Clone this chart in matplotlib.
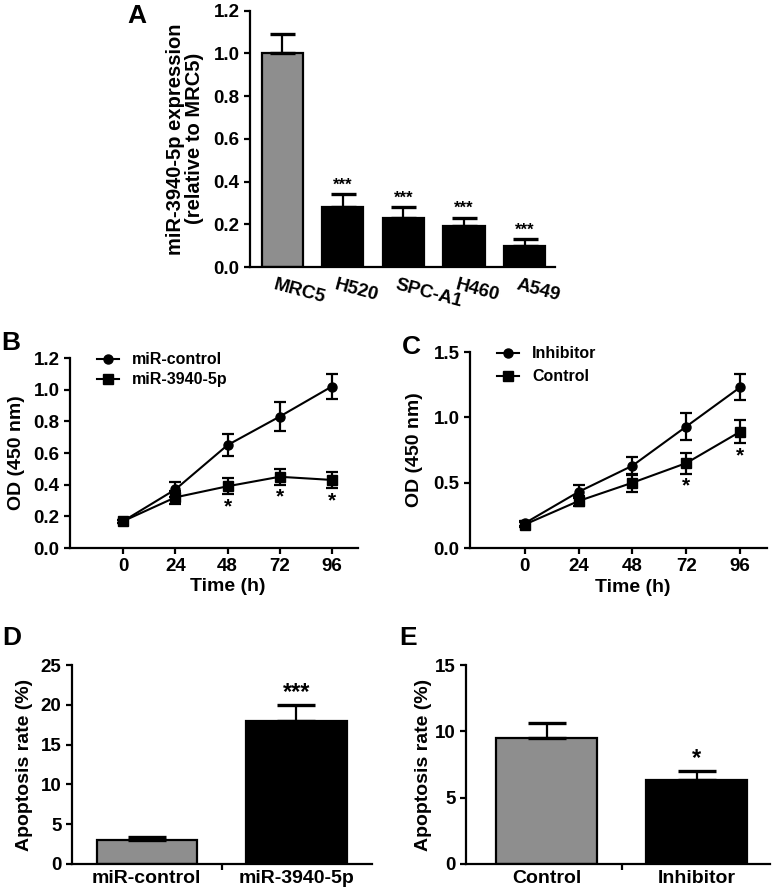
import numpy as np
import matplotlib.pyplot as plt
from matplotlib import transforms
from matplotlib.lines import Line2D

plt.rcParams['font.family'] = ['Liberation Sans', 'DejaVu Sans']
plt.rcParams['font.weight'] = 'bold'
plt.rcParams['axes.labelweight'] = 'bold'
plt.rcParams['axes.linewidth'] = 1.6
plt.rcParams['xtick.major.width'] = 1.6
plt.rcParams['ytick.major.width'] = 1.6
plt.rcParams['xtick.minor.width'] = 1.6
plt.rcParams['xtick.major.size'] = 4
plt.rcParams['ytick.major.size'] = 4

GRAY = '#8e8e8e'

# panel A
cells = ['MRC5', 'H520', 'SPC-A1', 'H460', 'A549']
expr = [1.00, 0.28, 0.23, 0.19, 0.10]
expr_err = [0.09, 0.06, 0.05, 0.04, 0.03]

# panel B
hours = [0, 24, 48, 72, 96]
od_ctrl = [0.17, 0.37, 0.65, 0.83, 1.02]
od_ctrl_err = [0.01, 0.05, 0.07, 0.09, 0.08]
od_mir = [0.17, 0.32, 0.39, 0.45, 0.43]
od_mir_err = [0.01, 0.04, 0.05, 0.05, 0.05]

# panel C
od_inh = [0.19, 0.43, 0.63, 0.93, 1.23]
od_inh_err = [0.02, 0.05, 0.07, 0.10, 0.10]
od_con = [0.18, 0.36, 0.50, 0.65, 0.89]
od_con_err = [0.02, 0.04, 0.07, 0.08, 0.09]

# panel D / E
apo_d_groups = ['miR-control', 'miR-3940-5p']
apo_d = [3.0, 18.0]
apo_d_err = [0.4, 2.0]
apo_e_groups = ['Control', 'Inhibitor']
apo_e = [9.5, 6.3]
apo_e_err = [1.1, 0.7]

fig = plt.figure(figsize=(7.74, 8.93), dpi=100)


def clean(ax, size=13.5):
    ax.spines['top'].set_visible(False)
    ax.spines['right'].set_visible(False)
    ax.tick_params(labelsize=size)


def letter(x, y, s):
    fig.text(x / 774, 1 - y / 893, s, fontsize=19, ha='center', va='center')


# ---- A ----
axA = fig.add_axes([0.323, 0.701, 0.394, 0.287])
x = np.arange(len(cells))
axA.bar(x, expr, width=0.68, color=[GRAY] + ['black'] * 4, edgecolor='black', linewidth=1.6,
        yerr=[np.zeros(5), expr_err], capsize=9, error_kw=dict(elinewidth=1.6, capthick=2.4))
axA.set_xlim(-0.53, 4.5)
axA.set_ylim(0, 1.2)
yt = np.arange(0, 1.21, 0.2)
axA.set_yticks(yt)
axA.set_yticklabels(['%.1f' % v for v in yt])
clean(axA, 13.5)
axA.tick_params(axis='x', length=0, pad=7)
axA.set_xticks(x)
axA.set_xticklabels(cells, rotation=-15, ha='left', rotation_mode='anchor', fontsize=13.5)
off = transforms.ScaledTranslation(-6 / 100, 0, fig.dpi_scale_trans)
for lab in axA.get_xticklabels():
    lab.set_transform(lab.get_transform() + off)
axA.set_ylabel('miR-3940-5p expression\n(relative to MRC5)', fontsize=14.5, linespacing=1.0)
axA.yaxis.set_label_coords(-0.15, 0.5)
for i in range(1, 5):
    axA.text(i, expr[i] + expr_err[i] + 0.008, '***', ha='center', va='bottom', fontsize=12)
letter(137, 16, 'A')


def growth(ax, a, a_err, b, b_err, la, lb, ylim, yticks, lab_x, leg_xy, spacing):
    ax.errorbar(hours, a, yerr=a_err, color='black', marker='o', markersize=6.5, lw=1.5,
                capsize=4, capthick=1.6, elinewidth=1.6)
    ax.errorbar(hours, b, yerr=b_err, color='black', marker='s', markersize=6.5, lw=1.5,
                capsize=4, capthick=1.6, elinewidth=1.6)
    ax.set_xlim(-24.5, 108)
    ax.set_ylim(*ylim)
    ax.set_yticks(yticks)
    ax.set_yticklabels(['%.1f' % v for v in yticks])
    ax.set_xticks(hours)
    clean(ax, 13.5)
    ax.set_ylabel('OD (450 nm)', fontsize=14)
    ax.yaxis.set_label_coords(lab_x, 0.5)
    ax.text((48 + 24.5) / 132.5, -0.2, 'Time (h)', transform=ax.transAxes,
            ha='center', va='center', fontsize=14)
    handles = [Line2D([], [], color='black', marker='o', markersize=6.5, lw=1.5),
               Line2D([], [], color='black', marker='s', markersize=6.5, lw=1.5)]
    ax.legend(handles, [la, lb], frameon=False, loc='upper left', bbox_to_anchor=leg_xy,
              fontsize=11.5, handlelength=1.4, handletextpad=0.8, labelspacing=spacing,
              borderpad=0, borderaxespad=0)


# ---- B ----
axB = fig.add_axes([0.0904, 0.3863, 0.372, 0.2128])
growth(axB, od_ctrl, od_ctrl_err, od_mir, od_mir_err, 'miR-control', 'miR-3940-5p',
       (0, 1.2), np.arange(0, 1.21, 0.2), -0.156, (0.094, 1.03), 0.3)
for i in [2, 3, 4]:
    axB.text(hours[i], od_mir[i] - od_mir_err[i] - 0.02, '*', ha='center', va='top', fontsize=15)
letter(11, 343, 'B')

# ---- C ----
axC = fig.add_axes([0.607, 0.3863, 0.384, 0.2195])
growth(axC, od_inh, od_inh_err, od_con, od_con_err, 'Inhibitor', 'Control',
       (0, 1.5), np.arange(0, 1.51, 0.5), -0.158, (0.091, 1.03), 0.5)
for i in [3, 4]:
    axC.text(hours[i], od_con[i] - od_con_err[i] - 0.02, '*', ha='center', va='top', fontsize=15)
letter(411, 347, 'C')


def apoptosis(ax, groups, vals, errs, xlim, ylim, yticks, star, lab_x):
    x = np.arange(2)
    ax.bar(x, vals, width=0.67, color=[GRAY, 'black'], edgecolor='black', linewidth=1.6,
           yerr=[np.zeros(2), errs], capsize=14,
           error_kw=dict(elinewidth=1.6, capthick=2.4))
    ax.set_xlim(*xlim)
    ax.set_ylim(*ylim)
    ax.set_yticks(yticks)
    ax.set_xticks(x)
    ax.set_xticklabels(groups)
    ax.set_xticks([0.5], minor=True)
    clean(ax, 13.5)
    ax.tick_params(axis='x', which='major', length=0, pad=4, labelsize=14)
    ax.tick_params(axis='x', which='minor', length=4)
    ax.set_ylabel('Apoptosis rate (%)', fontsize=14)
    ax.yaxis.set_label_coords(lab_x, 0.5)
    ax.text(1, vals[1] + errs[1] + ylim[1] * 0.005, star, ha='center', va='bottom', fontsize=17)


# ---- D ----
axD = fig.add_axes([0.093, 0.0325, 0.3876, 0.2228])
apoptosis(axD, apo_d_groups, apo_d, apo_d_err, (-0.5, 1.505), (0, 25), np.arange(0, 26, 5),
          '***', -0.13)
letter(12, 638, 'D')

# ---- E ----
axE = fig.add_axes([0.602, 0.0325, 0.393, 0.2228])
apoptosis(axE, apo_e_groups, apo_e, apo_e_err, (-0.537, 1.49), (0, 15), np.arange(0, 16, 5),
          '*', -0.112)
letter(408, 638, 'E')

fig.savefig('out.png', dpi=100)
